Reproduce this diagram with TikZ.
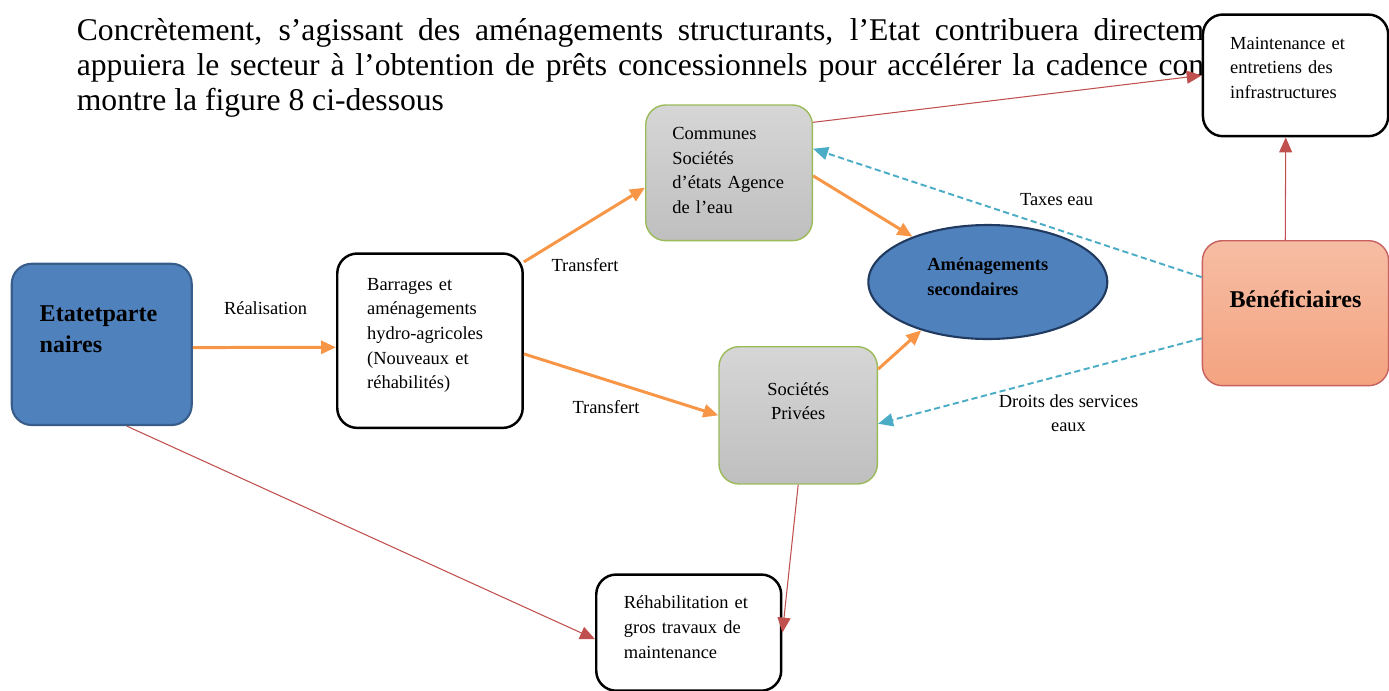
\documentclass[tikz,border=0pt]{standalone}
\usepackage{fontspec}
\setmainfont{Liberation Serif}
\usetikzlibrary{arrows.meta,shapes.geometric,shadings}

\definecolor{bleuF}{HTML}{4F81BD}
\definecolor{bleuB}{HTML}{385D8A}
\definecolor{bleuN}{HTML}{203A60}
\definecolor{orangeF}{HTML}{F79646}
\definecolor{rougeL}{HTML}{C0504D}
\definecolor{cyanL}{HTML}{4BACC6}
\definecolor{grisH}{HTML}{D6D6D6}
\definecolor{grisB}{HTML}{BFBFBF}
\definecolor{vertB}{HTML}{9BBB59}
\definecolor{saumonH}{HTML}{F6BDA4}
\definecolor{saumonB}{HTML}{F4A380}

\newcommand{\ptexte}{\fontsize{10.5}{14}\selectfont}
\newcommand{\btexte}{\fontsize{10.5}{13.7}\selectfont\bfseries}
\newcommand{\gtexte}{\fontsize{13.7}{17.6}\selectfont\bfseries}

\tikzset{
  boite/.style={rectangle, rounded corners=0.4cm, anchor=north west, inner ysep=0pt, align=left, font=\ptexte},
  bleu/.style={fill=bleuF, draw=bleuB, line width=1.2pt},
  blanc/.style={fill=white, draw=black, line width=1.4pt},
  gris/.style={top color=grisH, bottom color=grisB, draw=vertB, line width=0.8pt},
  saumon/.style={top color=saumonH, bottom color=saumonB, draw=rougeL!90, line width=0.8pt},
  pointe/.style={-{Triangle[length=0.3cm,width=0.26cm]}}
}

\begin{document}
\begin{tikzpicture}[x=0.02cm, y=-0.02cm]

  \useasboundingbox (0,0) rectangle (1389,690);

  \node[anchor=base west, inner sep=0pt, align=left, font=\fontsize{18}{19.7}\selectfont] (intro) at (76.5,110)
    {\makebox[22.55cm][s]{Concrètement, s’agissant des aménagements structurants, l’Etat contribuera directem}\\
     \makebox[22.55cm][s]{appuiera le secteur à l’obtention de prêts concessionnels pour accélérer la cadence con}\\
     montre la figure 8 ci-dessous};

  \begin{scope}[every node/.style={boite}]
    \node[bleu, font=\gtexte, inner xsep=.56cm, text width=2.48cm, text height=1.16cm, text depth=2.066cm] (etat) at (10.7,262.7) {Etatetparte\\naires};
    \node[blanc, inner xsep=.6cm, text width=2.51cm, text height=.734cm, text depth=2.754cm] (barrages) at (336,252.3) {Barrages et\\aménagements\\hydro-agricoles\\(Nouveaux et\\réhabilités)};
    \node[gris, inner xsep=.534cm, text width=2.266cm, text height=.694cm, text depth=2.02cm] (communes) at (645,104.3) {Communes\\Sociétés\\d’états~Agence\\de l’eau};
    \node[gris, align=center, minimum width=3.168cm, text height=1.46cm, text depth=1.286cm] (societes) at (718.3,346) {Sociétés\\Privées};
    \node[saumon, align=center, font=\gtexte, minimum width=3.726cm, text height=1.34cm, text depth=1.56cm] (benef) at (1201.7,240) {Bénéficiaires};
    \node[blanc, inner xsep=.546cm, text width=2.614cm, text height=.694cm, text depth=1.74cm] (maint) at (1201.7,13.3) {Maintenance et\\entretiens des\\infrastructures};
    \node[blanc, inner xsep=.554cm, text width=2.592cm, text height=.688cm, text depth=1.636cm] (rehab) at (595,573.3) {Réhabilitation et\\gros travaux de\\maintenance};
  \end{scope}

  \node[ellipse, fill=bleuF, draw=bleuN, line width=1.2pt, inner sep=0pt, align=left, font=\btexte,
        minimum width=4.78cm, minimum height=2.28cm, text height=.72cm, text depth=.2cm] (amen) at (987.8,282) {Aménagements\\secondaires};

  \begin{scope}[every node/.style={font=\ptexte, inner sep=0pt, anchor=base}]
    \node (realisation) at (265.5,314) {Réalisation};
    \node (transfertA) at (585,271) {Transfert};
    \node (transfertB) at (606,413) {Transfert};
    \node (taxes) at (1056.5,205) {Taxes eau};
    \node[align=center] (droits) at (1068.5,431.7) {Droits des services\\eaux};
  \end{scope}

  \begin{scope}[every edge/.style={draw=orangeF, line width=1.7pt, pointe}]
    \path (etat.-2) edge (barrages.184);
    \path (barrages.40) edge (communes.190);
    \path (barrages.-8) edge (societes.west);
    \path (communes.-2) edge (amen.149);
    \path (societes.30) edge (amen.216);
  \end{scope}

  \begin{scope}[every edge/.style={draw=rougeL, line width=0.6pt, pointe}]
    \path (communes.31) edge (maint.west);
    \path (benef.98) edge (maint.261);
    \path (etat.-73) edge (rehab.184);
    \path (societes.south) edge (rehab.east);
  \end{scope}

  \begin{scope}[every edge/.style={draw=cyanL, line width=1.1pt, dash pattern=on 3.5pt off 2pt, pointe}]
    \path (benef.159) edge (communes.16);
    \path (benef.195) edge (societes.-6);
  \end{scope}

\end{tikzpicture}
\end{document}
